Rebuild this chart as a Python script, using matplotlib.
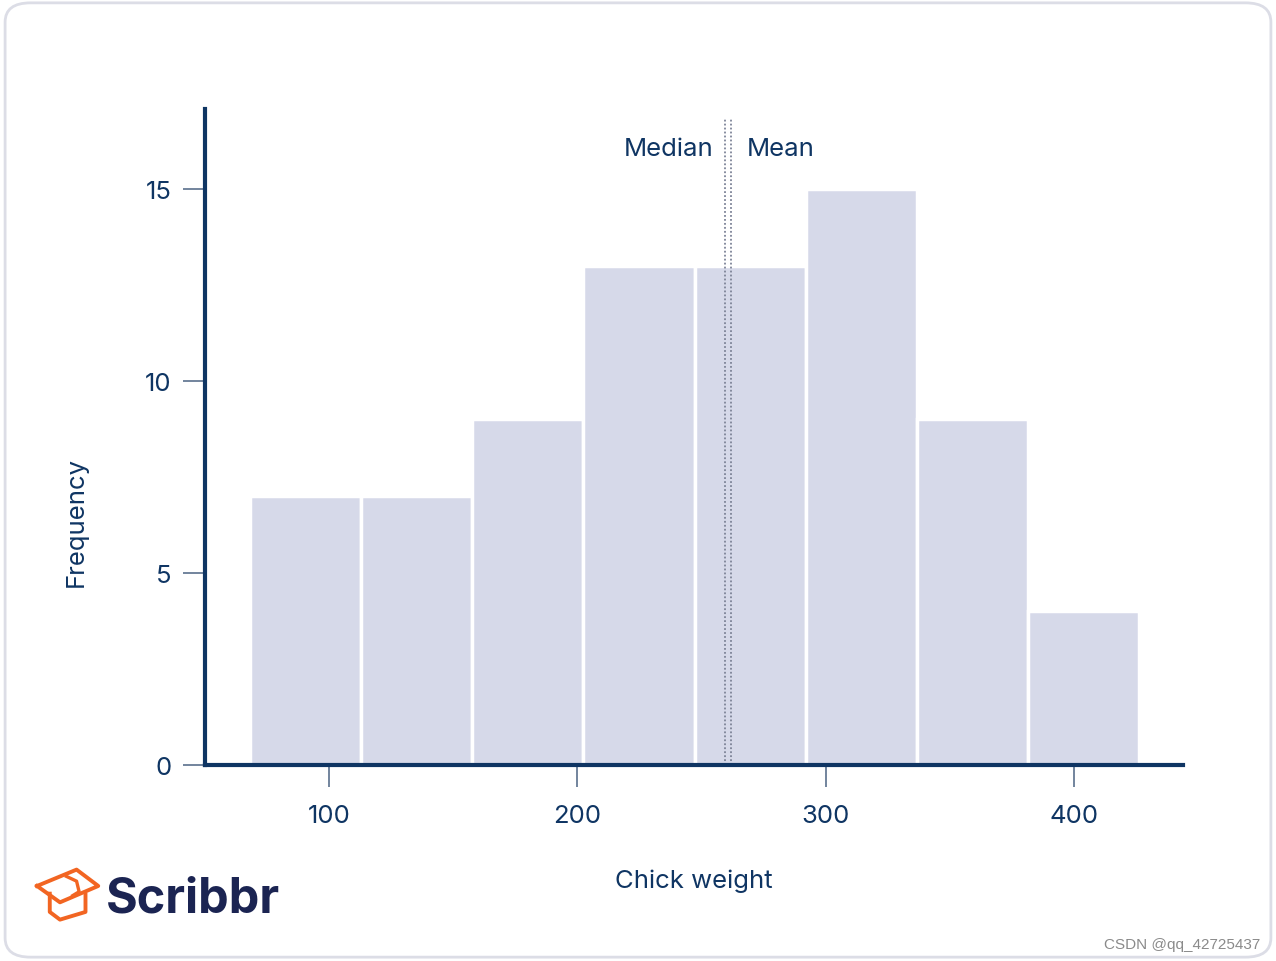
import matplotlib.pyplot as plt
from matplotlib.patches import FancyBboxPatch
from matplotlib.lines import Line2D

# ---- data ----
bin_edges = [68, 112.8, 157.6, 202.4, 247.2, 292, 336.8, 381.6, 426.4]
counts = [7, 7, 9, 13, 13, 15, 9, 4]
median_w = 259.5
mean_w = 261.8
x_ticks = [100, 200, 300, 400]
y_ticks = [0, 5, 10, 15]

navy = "#0f3563"
bar_col = "#d6d9e9"
fs = 18.5
plt.rcParams['font.family'] = ['Inter', 'DejaVu Sans']

fig = plt.figure(figsize=(12.76, 9.62), dpi=100)

# rounded border
fig.patches.append(FancyBboxPatch((0.004, 0.004), 0.992, 0.992,
                                  boxstyle="round,pad=0,rounding_size=0.02",
                                  transform=fig.transFigure, fill=False,
                                  edgecolor="#dcdde6", linewidth=2))

ax = fig.add_axes([0.1607, 0.2037, 0.7664, 0.682])

widths = [bin_edges[i + 1] - bin_edges[i] for i in range(len(counts))]
ax.bar(bin_edges[:-1], counts, width=widths, align="edge", color=bar_col,
       edgecolor="white", linewidth=2.5, zorder=1)

for v in (median_w, mean_w):
    ax.plot([v, v], [0, 16.85], color="#7d8397", linestyle=(0, (1, 1.2)),
            linewidth=1.3, zorder=2)

ax.text(median_w - 4.5, 16.05, "Median", ha="right", va="center",
        fontsize=fs, color=navy)
ax.text(mean_w + 6.5, 16.05, "Mean", ha="left", va="center",
        fontsize=fs, color=navy)

ax.set_xlim(50, 444)
ax.set_ylim(0, 17.08)
ax.set_xticks(x_ticks)
ax.set_yticks(y_ticks)

for s in ("top", "right"):
    ax.spines[s].set_visible(False)
for s in ("left", "bottom"):
    ax.spines[s].set_linewidth(3)
    ax.spines[s].set_color(navy)
    ax.spines[s].set_zorder(3)

ax.tick_params(axis="both", direction="out", length=16, width=1.2,
               color="#5a6f8c", labelcolor=navy, labelsize=fs, pad=8)
ax.tick_params(axis="x", pad=12)

ax.set_xlabel("Chick weight", fontsize=fs, color=navy, labelpad=30)
ax.set_ylabel("Frequency", fontsize=fs, color=navy)
ax.yaxis.set_label_coords(-0.12, 0.372)

# Scribbr logo
orange = "#f26522"
cap_x = [0.029, 0.060, 0.077, 0.047, 0.029]
cap_y = [0.078, 0.095, 0.078, 0.061, 0.078]
fig.add_artist(Line2D(cap_x, cap_y, transform=fig.transFigure,
                      color=orange, linewidth=2.8, solid_joinstyle="round"))
fig.add_artist(Line2D([0.039, 0.039, 0.047, 0.067, 0.067],
                      [0.070, 0.051, 0.043, 0.051, 0.069],
                      transform=fig.transFigure, color=orange,
                      linewidth=2.8, solid_joinstyle="round"))
fig.add_artist(Line2D([0.052, 0.060, 0.062, 0.057],
                      [0.088, 0.083, 0.072, 0.068],
                      transform=fig.transFigure, color=orange,
                      linewidth=2.4, solid_joinstyle="round"))
fig.text(0.083, 0.065, "Scribbr", fontsize=35, fontweight="bold",
         color="#1b2452", va="center", ha="left")

fig.text(0.988, 0.018, "CSDN @qq_42725437", fontsize=11, color="#8a8a8a",
         ha="right", va="center", family=["Liberation Sans", "DejaVu Sans"])

fig.savefig("out.png", dpi=100)
